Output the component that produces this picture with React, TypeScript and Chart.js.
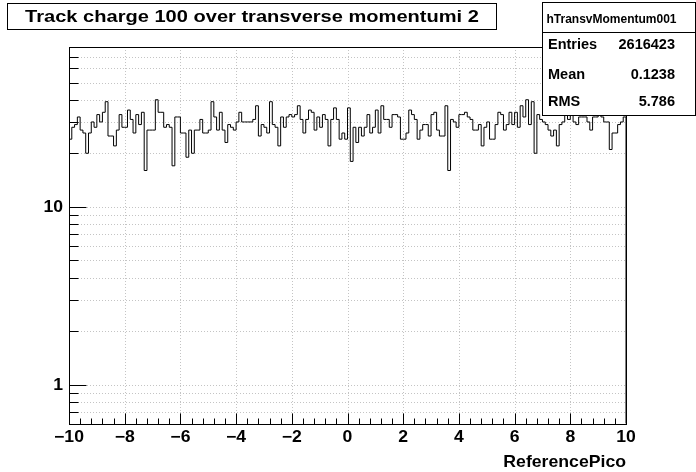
import React, { useEffect, useRef } from "react";
import { Chart, registerables } from "chart.js";

Chart.register(...registerables);

// ---- data ----
const binLow = -10;
const binHigh = 10;
const binCount = 200;
const counts: number[] = [
  24, 28, 29, 32, 27, 26, 20, 26, 30, 28, 33, 30, 34, 39, 25, 25, 22, 27, 33, 28,
  28, 35, 31, 26, 33, 29, 34, 16, 27, 27, 27, 40, 34, 34, 28, 29, 28, 17, 32, 32,
  26, 26, 19, 27, 20, 27, 27, 31, 26, 26, 27, 39, 32, 27, 34, 27, 23, 29, 28, 27,
  30, 34, 30, 30, 30, 30, 31, 37, 25, 29, 28, 26, 39, 29, 28, 22, 32, 28, 32, 33,
  32, 33, 37, 31, 26, 31, 35, 34, 27, 32, 28, 33, 31, 22, 31, 36, 31, 24, 26, 24,
  36, 18, 28, 23, 28, 25, 28, 33, 26, 28, 35, 26, 37, 31, 31, 28, 33, 33, 32, 24,
  24, 26, 35, 33, 31, 24, 27, 29, 29, 25, 33, 34, 27, 25, 25, 37, 16, 31, 30, 28,
  33, 33, 34, 32, 31, 27, 27, 29, 22, 28, 30, 24, 24, 29, 34, 33, 27, 29, 34, 29,
  34, 28, 37, 32, 40, 29, 39, 20, 33, 31, 30, 29, 27, 25, 27, 22, 29, 30, 33, 31,
  33, 30, 29, 32, 32, 32, 30, 27, 32, 32, 33, 32, 30, 30, 21, 26, 26, 29, 30, 32,
];
const xTickValues = [-10, -8, -6, -4, -2, 0, 2, 4, 6, 8, 10];
const xTickLabels = ["\u221210", "\u22128", "\u22126", "\u22124", "\u22122", "0", "2", "4", "6", "8", "10"];
const yTickValues = [0.7, 0.8, 0.9, 1, 2, 3, 4, 5, 6, 7, 8, 9, 10, 20, 30, 40, 50, 60, 70];
const yLabelledTicks = [1, 10];
const yTickLabels = ["1", "10"];
const yMin = 0.604;
const yMax = 79.2;
const titleText = "Track charge 100 over transverse momentumi 2";
const xAxisTitle = "ReferencePico";
const statsName = "hTransvMomentum001";
const statsLabels = ["Entries", "Mean", "RMS"];
const statsValues = ["2616423", "0.1238", "5.786"];

const FONT = "'Liberation Sans', Arial, Helvetica, sans-serif";

function stretchedText(
  ctx: CanvasRenderingContext2D,
  text: string,
  x: number,
  y: number,
  align: CanvasTextAlign,
  size: number,
  sx: number
) {
  ctx.save();
  ctx.font = `bold ${size}px ${FONT}`;
  ctx.fillStyle = "#000";
  ctx.textAlign = align;
  ctx.textBaseline = "alphabetic";
  ctx.translate(x, y);
  ctx.scale(sx, 1);
  ctx.fillText(text, 0, 0);
  ctx.restore();
}

export default function App() {
  const ref = useRef<HTMLCanvasElement | null>(null);

  useEffect(() => {
    const canvas = ref.current;
    if (!canvas) return;
    const width = (binHigh - binLow) / binCount;
    const pts: { x: number; y: number }[] = [{ x: binLow, y: yMin }];
    counts.forEach((c, i) => pts.push({ x: binLow + i * width, y: c }));
    pts.push({ x: binHigh, y: counts[counts.length - 1] });
    pts.push({ x: binHigh, y: yMin });

    const framePlugin = {
      id: "rootFrame",
      beforeDatasetsDraw(chart: any) {
        const { ctx, chartArea: a, scales } = chart;
        const xs = scales.x, ys = scales.y;
        ctx.save();
        ctx.strokeStyle = "#c4c4c4";
        ctx.lineWidth = 1;
        ctx.setLineDash([1, 2]);
        xTickValues.forEach((v) => {
          const px = Math.round(xs.getPixelForValue(v)) + 0.5;
          ctx.beginPath();
          ctx.moveTo(px, a.top);
          ctx.lineTo(px, a.bottom);
          ctx.stroke();
        });
        yTickValues.forEach((v) => {
          const py = Math.round(ys.getPixelForValue(v)) + 0.5;
          ctx.beginPath();
          ctx.moveTo(a.left, py);
          ctx.lineTo(a.right, py);
          ctx.stroke();
        });
        ctx.restore();
      },
      afterDatasetsDraw(chart: any) {
        const { ctx, chartArea: a, scales } = chart;
        const xs = scales.x, ys = scales.y;
        ctx.save();
        ctx.strokeStyle = "#000";
        ctx.lineWidth = 1;
        const L = Math.round(a.left) + 0.5, R = Math.round(a.right) + 0.5;
        const T = Math.round(a.top) + 0.5, B = Math.round(a.bottom) + 0.5;
        ctx.strokeRect(L, T, R - L, B - T);
        ctx.beginPath();
        for (let k = 0; k < xTickValues.length; k++) {
          const v = xTickValues[k];
          const px = Math.round(xs.getPixelForValue(v)) + 0.5;
          ctx.moveTo(px, B);
          ctx.lineTo(px, B - 11);
          if (k < xTickValues.length - 1) {
            const next = xTickValues[k + 1];
            for (let m = 1; m < 5; m++) {
              const mv = v + ((next - v) * m) / 5;
              const mp = Math.round(xs.getPixelForValue(mv)) + 0.5;
              ctx.moveTo(mp, B);
              ctx.lineTo(mp, B - 6);
            }
          }
        }
        yTickValues.forEach((v) => {
          const py = Math.round(ys.getPixelForValue(v)) + 0.5;
          const len = yLabelledTicks.includes(v) ? 17 : 9;
          ctx.moveTo(L, py);
          ctx.lineTo(L + len, py);
        });
        ctx.stroke();
        ctx.restore();

        // tick labels placed with the chart's own scales
        xTickValues.forEach((v, k) => {
          stretchedText(ctx, xTickLabels[k], xs.getPixelForValue(v), 442, "center", 16, 1.1);
        });
        yLabelledTicks.forEach((v, k) => {
          stretchedText(ctx, yTickLabels[k], 63, ys.getPixelForValue(v) + 5.5, "right", 16, 1.1);
        });
        stretchedText(ctx, xAxisTitle, xs.right, 467, "right", 16.5, 1.07);
      },
      afterDraw(chart: any) {
        const { ctx } = chart;
        ctx.save();
        ctx.fillStyle = "#fff";
        ctx.fillRect(7, 3, 489, 26);
        ctx.strokeStyle = "#000";
        ctx.lineWidth = 1;
        ctx.strokeRect(7.5, 3.5, 489, 26);
        ctx.restore();
        stretchedText(ctx, titleText, 252, 22, "center", 17, 1.18);

        ctx.save();
        ctx.fillStyle = "#fff";
        ctx.fillRect(542, 2, 153, 113);
        ctx.strokeStyle = "#000";
        ctx.lineWidth = 1;
        ctx.strokeRect(542.5, 2.5, 153, 113);
        ctx.beginPath();
        ctx.moveTo(542, 32.5);
        ctx.lineTo(695, 32.5);
        ctx.stroke();
        ctx.restore();
        stretchedText(ctx, statsName, 611.5, 23, "center", 12, 1.0);
        const rowY = [48.5, 78.5, 106];
        statsLabels.forEach((lab, i) => {
          stretchedText(ctx, lab, 548, rowY[i], "left", 14.5, 1.0);
          stretchedText(ctx, statsValues[i], 675, rowY[i], "right", 14.5, 1.0);
        });
      },
    };

    const chart = new Chart(canvas, {
      type: "line",
      data: {
        datasets: [
          {
            data: pts,
            stepped: "before",
            borderColor: "#000",
            borderWidth: 1,
            pointRadius: 0,
            fill: false,
            tension: 0,
          },
        ],
      },
      options: {
        responsive: false,
        animation: false,
        devicePixelRatio: 1,
        layout: { padding: { left: 0, top: 47, right: 70, bottom: 0 } },
        plugins: { legend: { display: false }, tooltip: { enabled: false }, title: { display: false } },
        scales: {
          x: {
            type: "linear",
            min: binLow,
            max: binHigh,
            afterBuildTicks: (s: any) => {
              s.ticks = xTickValues.map((v) => ({ value: v }));
            },
            afterFit: (s: any) => {
              s.height = 48;
            },
            grid: { display: false, drawTicks: false },
            border: { display: false },
            ticks: { display: false },
            title: { display: false },
          },
          y: {
            type: "logarithmic",
            min: yMin,
            max: yMax,
            afterBuildTicks: (s: any) => {
              s.ticks = yTickValues.map((v) => ({ value: v }));
            },
            afterFit: (s: any) => {
              s.width = 69;
            },
            grid: { display: false, drawTicks: false },
            border: { display: false },
            ticks: { display: false },
          },
        },
      },
      plugins: [framePlugin],
    } as any);
    return () => chart.destroy();
  }, []);

  return (
    <div style={{ position: "absolute", left: 0, top: 0, width: 696, height: 472, background: "#fff" }}>
      <canvas ref={ref} width={696} height={472} style={{ display: "block" }} />
    </div>
  );
}
